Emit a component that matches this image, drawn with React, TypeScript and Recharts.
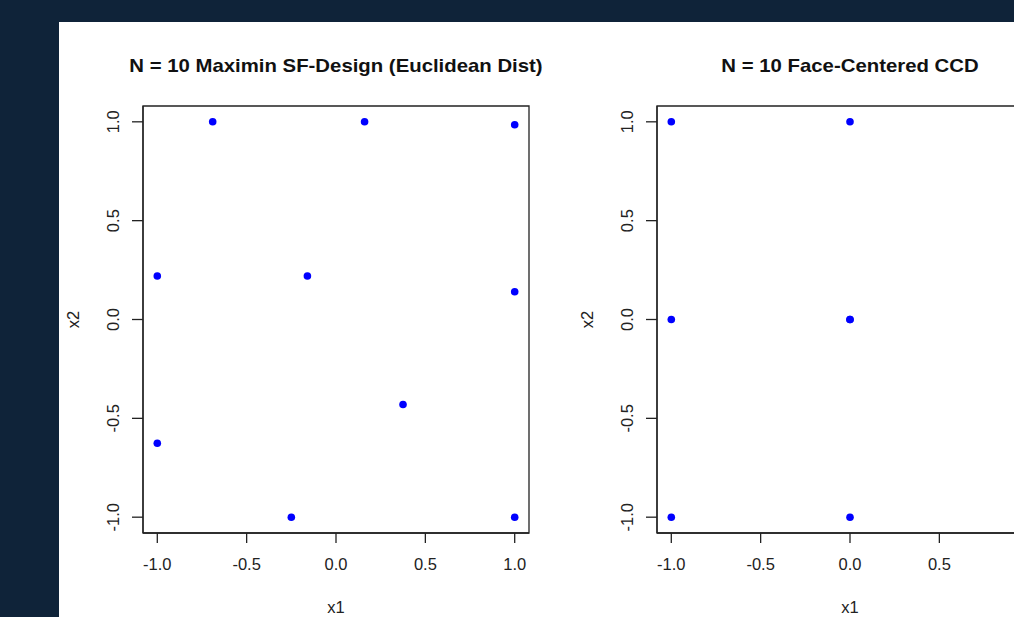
import { ScatterChart, Scatter, XAxis, YAxis, ReferenceArea } from 'recharts';

// design points
const sfX = [-0.69, 0.16, 1.0, -1.0, -0.16, 1.0, 0.375, -1.0, -0.25, 1.0];
const sfY = [1.0, 1.0, 0.985, 0.22, 0.22, 0.14, -0.43, -0.626, -1.0, -1.0];
const ccdX = [-1, 0, 1, -1, 0, 0, 1, -1, 0, 1];
const ccdY = [1, 1, 1, 0, 0, 0, 0, -1, -1, -1];
const axisTicks = [-1, -0.5, 0, 0.5, 1];
const axisDomain = [-1.08, 1.08];

const sfData = sfX.map((x, i) => ({ x, y: sfY[i] }));
const ccdData = ccdX.map((x, i) => ({ x, y: ccdY[i] }));

const FONT = '"Liberation Sans", Arial, sans-serif';
const INK = '#222';

const fmt = (v: number) => v.toFixed(1);

const YTick = ({ x, y, payload }: any) => (
  <text
    x={x}
    y={y}
    transform={`rotate(-90, ${x}, ${y})`}
    textAnchor="middle"
    fontSize={16.5}
    fontFamily={FONT}
    fill={INK}
  >
    {fmt(payload.value)}
  </text>
);

const YLabel = ({ viewBox }: any) => {
  const cx = viewBox.x + 19.5;
  const cy = viewBox.y + viewBox.height / 2;
  return (
    <text x={cx} y={cy} transform={`rotate(-90, ${cx}, ${cy})`} textAnchor="middle" fontSize={16.5} fontFamily={FONT} fill={INK}>
      x2
    </text>
  );
};

const Dot = (p: any) => <circle cx={p.cx} cy={p.cy} r={3.8} fill="#0000ff" />;

const Panel = ({ left, title, data }: any) => (
  <div style={{ position: 'absolute', left, top: 0, width: 500, height: 595 }}>
    <div
      style={{
        position: 'absolute',
        left: 84,
        width: 386,
        top: 35.3,
        textAlign: 'center',
        fontWeight: 'bold',
        fontSize: 18.5,
        lineHeight: '18.5px',
        whiteSpace: 'nowrap',
        color: '#111',
        transform: 'scaleX(1.1)',
      }}
    >
      {title}
    </div>
    <ScatterChart width={500} height={595} margin={{ top: 84, right: 30, bottom: 0, left: 0 }}>
      <XAxis
        type="number"
        dataKey="x"
        domain={axisDomain}
        ticks={axisTicks}
        tickFormatter={fmt}
        allowDataOverflow
        height={84}
        tickSize={10}
        tickMargin={15}
        stroke={INK}
        strokeWidth={1.3}
        tick={{ fill: INK, fontSize: 16.5, fontFamily: FONT }}
        label={{ value: 'x1', position: 'insideBottom', offset: 4, fill: INK, fontSize: 16.5, fontFamily: FONT }}
      />
      <YAxis
        type="number"
        dataKey="y"
        domain={axisDomain}
        ticks={axisTicks}
        allowDataOverflow
        width={84}
        tickSize={11}
        tickMargin={13}
        stroke={INK}
        strokeWidth={1.3}
        tick={<YTick />}
        label={<YLabel />}
      />
      {/* plot frame, as R's box() */}
      <ReferenceArea
        x1={axisDomain[0]}
        x2={axisDomain[1]}
        y1={axisDomain[0]}
        y2={axisDomain[1]}
        fill="none"
        fillOpacity={0}
        stroke={INK}
        strokeWidth={1.3}
        strokeOpacity={1}
        ifOverflow="visible"
      />
      <Scatter data={data} shape={Dot} isAnimationActive={false} />
    </ScatterChart>
  </div>
);

export default function App() {
  return (
    <div
      style={{
        position: 'absolute',
        left: 0,
        top: 0,
        width: 1014,
        height: 617,
        background: '#0f2339',
        overflow: 'hidden',
        fontFamily: FONT,
      }}
    >
      <div style={{ position: 'absolute', left: 59, top: 22, width: 955, height: 595, background: '#fff', overflow: 'hidden' }}>
        <Panel left={0} title="N = 10 Maximin SF-Design (Euclidean Dist)" data={sfData} />
        <Panel left={513.7} title="N = 10 Face-Centered CCD" data={ccdData} />
      </div>
    </div>
  );
}
